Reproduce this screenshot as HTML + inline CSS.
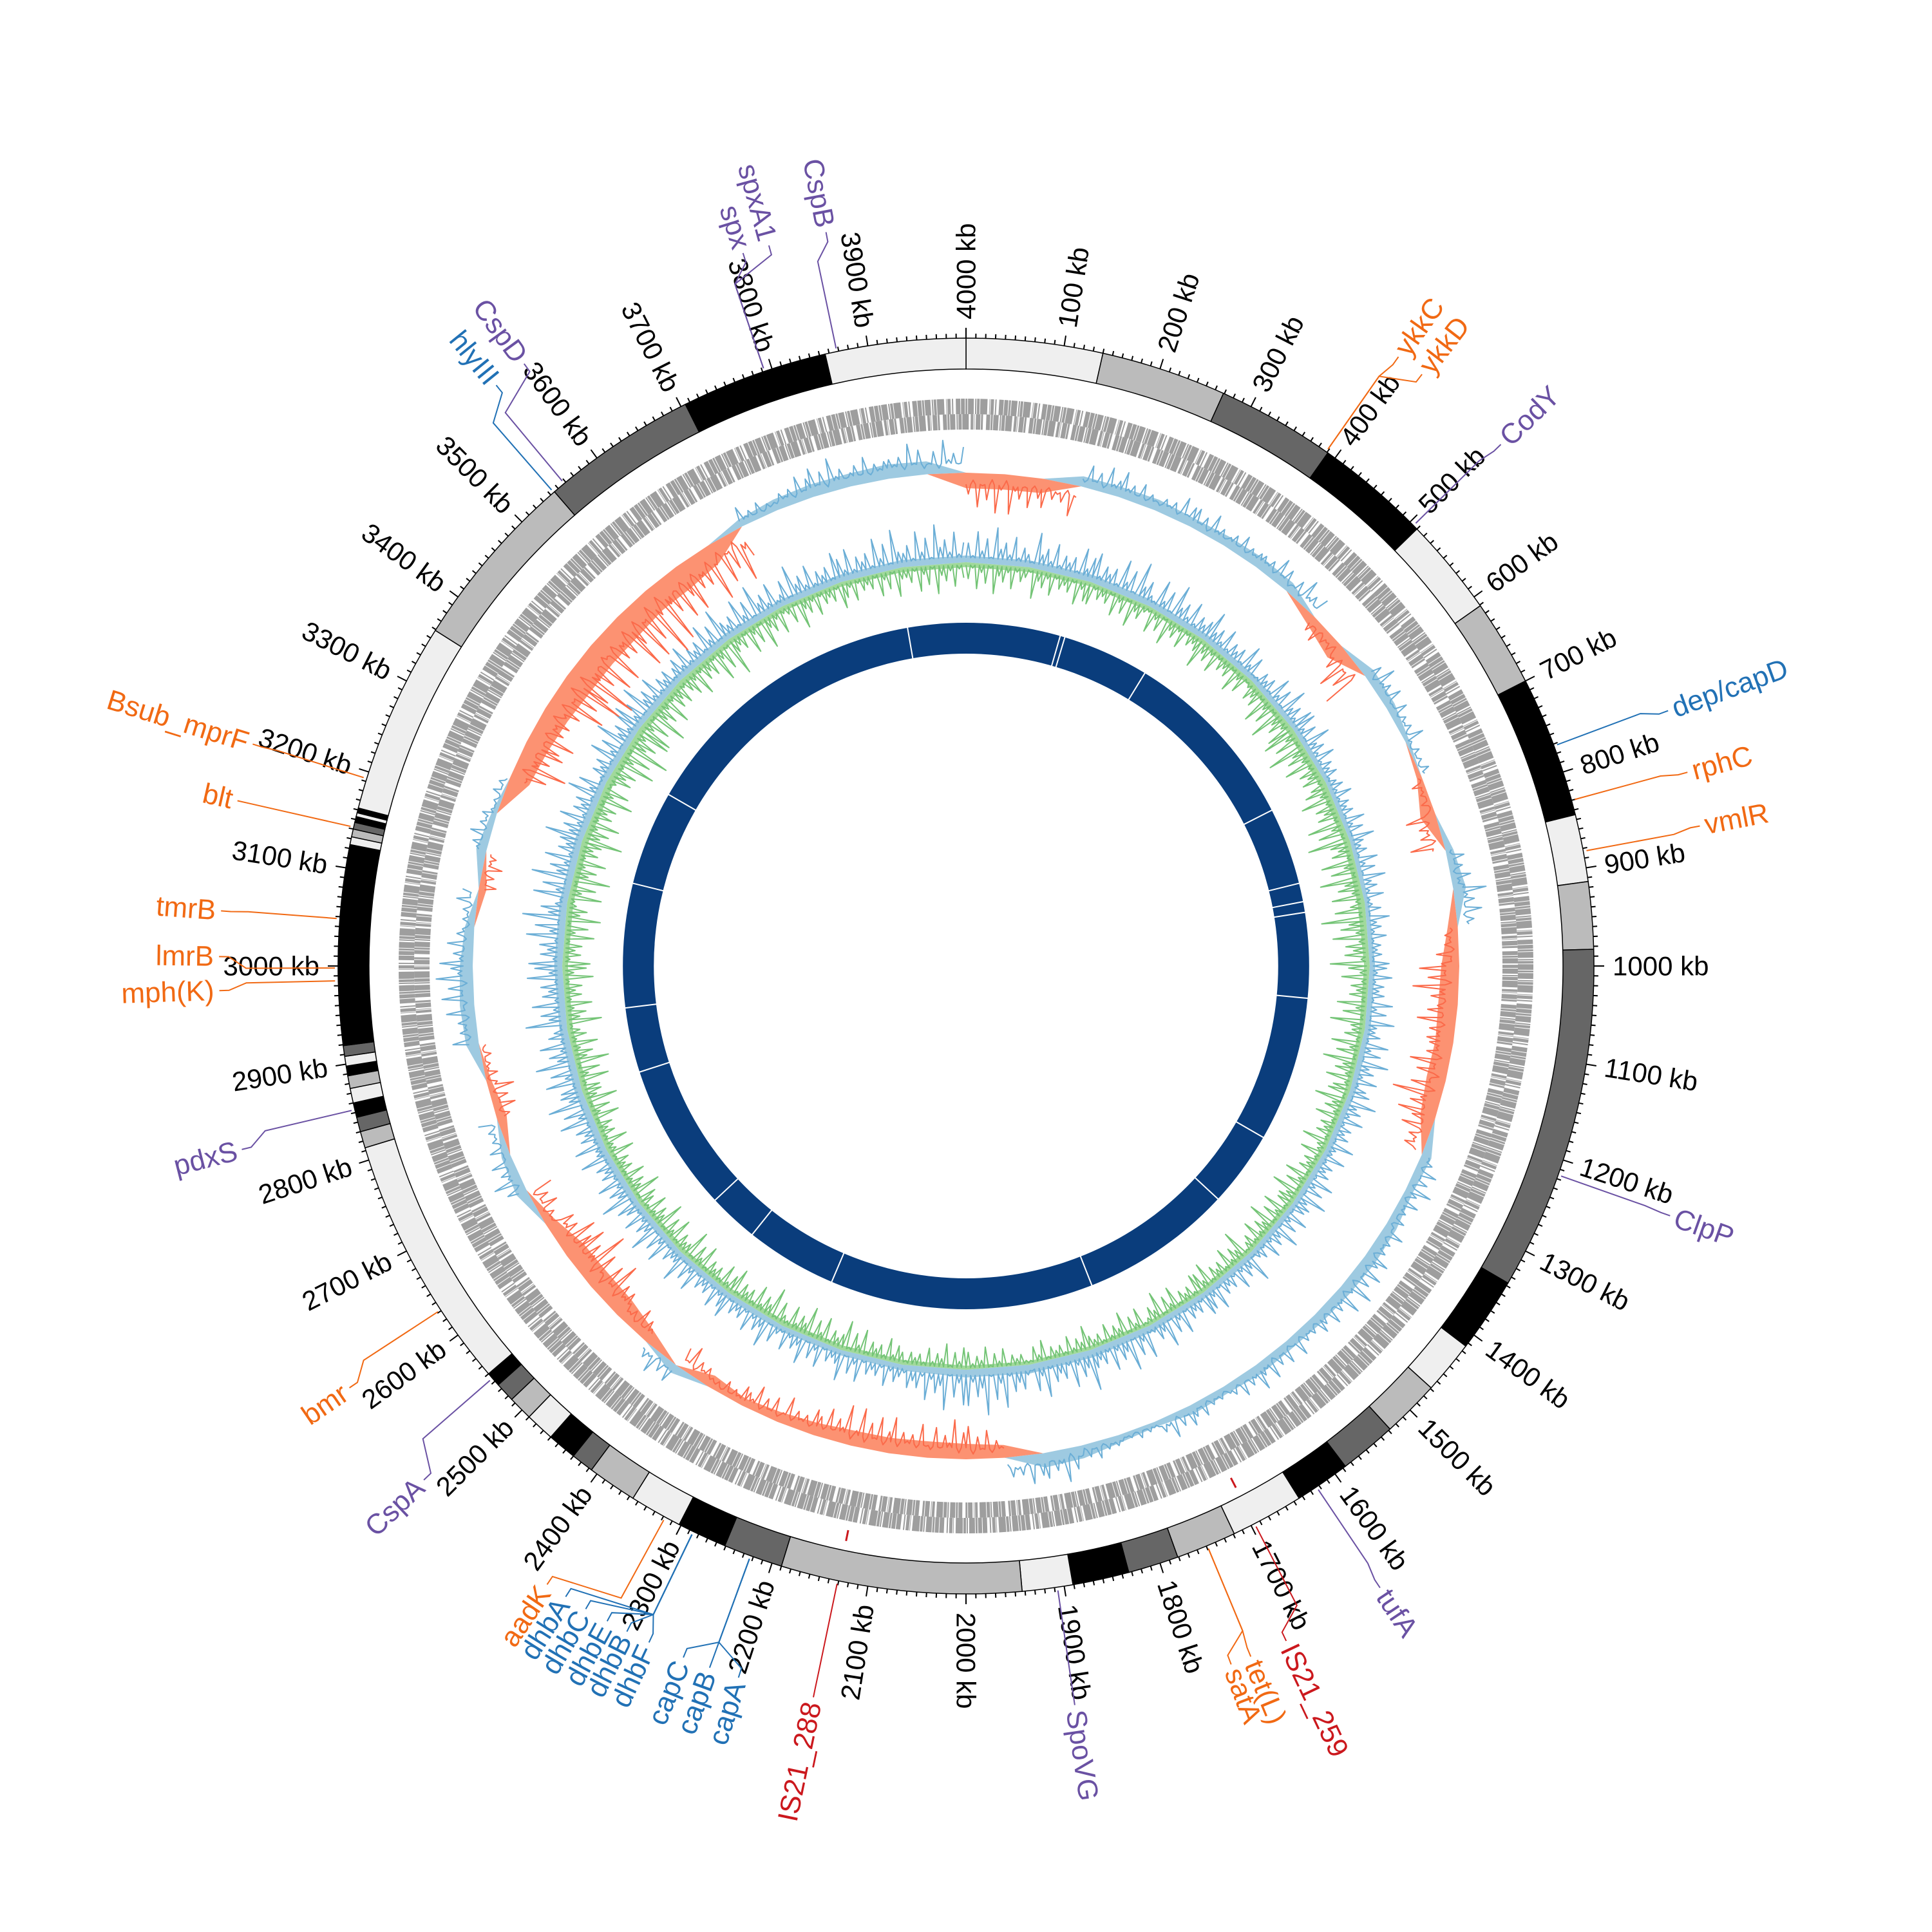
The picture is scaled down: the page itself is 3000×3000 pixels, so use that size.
<!DOCTYPE html>
<html><head><meta charset="utf-8"><title>Circular genome map</title>
<style>
html,body{margin:0;padding:0;background:#fff;}
svg{display:block;}
text{font-family:"Liberation Sans","DejaVu Sans",sans-serif;}
</style></head>
<body>
<svg id="chart" width="3000" height="3000" viewBox="0 0 3000 3000" xmlns="http://www.w3.org/2000/svg">
<rect width="3000" height="3000" fill="#fff"/>
</svg>
<script>
// ---------- data ----------
const genomeKb = 4000;
const contigStart = [0,140,269,391,510,611,700,845,914,983,1337,1414,1469,1528,1587,1644,1719,1781,1833,1891,1943,2190,2251,2302,2356,2407,2430,2460,2490,2515,2535,2550,2813,2830,2845,2860,2875,2888,2898,2908,2919,3124,3132,3140,3147,3153,3157,3162,3359,3545,3705,3856];
const contigEnd   = [140,269,391,510,611,700,845,914,983,1337,1414,1469,1528,1587,1644,1719,1781,1833,1891,1943,2190,2251,2302,2356,2407,2430,2460,2490,2515,2535,2550,2813,2830,2845,2860,2875,2888,2898,2908,2919,3124,3132,3140,3147,3153,3157,3162,3359,3545,3705,3856,4000];
const contigShade = [0,1,2,3,0,1,3,0,1,2,3,0,1,2,3,0,1,2,3,0,1,2,3,0,1,2,3,0,1,2,3,0,1,2,3,0,1,3,0,2,3,0,1,2,3,0,3,0,1,2,3,0];
// GC skew, 50 kb bins (positive = outward/blue, negative = inward/red)
const skewValues = [-30,-30,-28,20,20,22,18,20,22,20,-20,-35,20,18,8,-10,-30,15,25,-20,-35,-38,-35,-38,-30,20,15,22,24,22,20,18,20,15,18,10,15,25,28,-25,-30,-32,-30,-30,-25,-20,-15,-25,18,-25,-40,-42,-40,-20,22,18,-20,-10,25,28,25,18,-15,20,10,-40,-45,-50,-55,-55,-55,-50,-50,-40,15,22,25,25,28,25];
// GC content deviation, 100 kb bins
const gcHigh = [35,35,38,35,32,30,28,25,25,22,28,30,30,30,28,30,30,35,40,45,40,30,28,30,30,32,35,38,38,40,42,40,38,35,35,35,35,35,38,38];
const gcLow  = [30,30,28,28,30,35,40,42,40,45,35,35,32,30,30,30,28,25,25,22,25,30,30,32,30,30,30,32,35,35,35,38,40,45,40,38,32,30,28,30];
// gaps in inner ring (kb)
const innerGaps = [177,186,349,700,845,880,900,1060,1333,1475,1761,2256,2428,2522,2800,2922,3155,3333,3891];
// IS element marks
const isMarks = [1696,2131];
// annotated features
const featNames = ["CspB","spx","spxA1","CspD","hlyIII","ykkC","ykkD","CodY","dep/capD","rphC","vmlR","ClpP","tufA","IS21_259","tet(L)","satA","SpoVG","IS21_288","capA","capB","capC","dhbF","dhbB","dhbE","dhbC","dhbA","aadK","CspA","bmr","pdxS","mph(K)","lmrB","tmrB","blt","Bsub_mprF"];
const featPos   = [3868,3792,3792,3558,3544,389,389,505,772,830,883,1216,1623,1696,1749,1749,1907,2131,2223,2223,2223,2286,2286,2286,2286,2286,2318,2544,2631,2853,2985,2998,3048,3142,3193];
const featLabel = [3880,3807,3830,3597,3567,393,418,508,778,833,880,1217,1626,1718,1751,1769,1907,2131,2197,2223,2247,2279,2300,2319,2340,2360,2379,2517,2618,2842,2979,3008,3047,3142,3192];
const featType  = ["reg","reg","reg","reg","vf","amr","amr","reg","vf","amr","amr","reg","reg","is","amr","amr","reg","is","vf","vf","vf","vf","vf","vf","vf","vf","amr","reg","amr","reg","amr","amr","amr","amr","amr"];

// ---------- styles ----------
const CX = 1500, CY = 1500;
const shades = ["#efefef","#bbbbbb","#666666","#000000"];
const typeColor = {amr:"#f16913", vf:"#2171b5", reg:"#6a51a3", is:"#cb181d"};
const R_BAND_OUT = 975, R_BAND_IN = 927;
const R_SKEW = 766, R_GC = 627;
const spikePattern = [1.0,0.35,1.6,0.6,1.25,0.3,1.85,0.75,1.1,0.5,1.45,0.4,0.95,0.65];

const NS = "http://www.w3.org/2000/svg";
const svg = document.getElementById("chart");
function ang(kb){ return kb / genomeKb * 2 * Math.PI; }
function P(kb, r){ const a = ang(kb); return [CX + r*Math.sin(a), CY - r*Math.cos(a)]; }
function f(n){ return n.toFixed(1); }
function mk(tag, attrs, parent){
  const e = document.createElementNS(NS, tag);
  for (const k in attrs) e.setAttribute(k, attrs[k]);
  (parent || svg).appendChild(e);
  return e;
}
function annulus(k0, k1, r0, r1){
  const large = (k1 - k0) > genomeKb/2 ? 1 : 0;
  const a = P(k0, r1), b = P(k1, r1), c = P(k1, r0), d = P(k0, r0);
  return `M${f(a[0])},${f(a[1])}A${r1},${r1} 0 ${large} 1 ${f(b[0])},${f(b[1])}L${f(c[0])},${f(c[1])}A${r0},${r0} 0 ${large} 0 ${f(d[0])},${f(d[1])}Z`;
}

// ---------- inner dark ring ----------
const gInner = mk("g", {});


const ringInner = mk("path", {d: annulus(0, 1999.99, 485, 533) + annulus(1999.99, 3999.99, 485, 533), fill:"#0a3d7c"}, gInner);


innerGaps.forEach(kb => {
  const a = P(kb, 484), b = P(kb, 534);
  const ln = mk("line", {x1:f(a[0]), y1:f(a[1]), x2:f(b[0]), y2:f(b[1]), stroke:"#fff", "stroke-width":2}, gInner);
  
  
});

function areaPath(vals, binKb, base, sign, scale){
  const n = vals.length;
  const pts = [];
  for (let i = 0; i <= n; i++){
    const v = vals[i % n] * scale * sign;
    pts.push(P(i * binKb, base + v));
  }
  let d = `M${f(pts[0][0])},${f(pts[0][1])}`;
  for (let i = 1; i < pts.length; i++) d += `L${f(pts[i][0])},${f(pts[i][1])}`;
  for (let i = n; i >= 0; i--){ const q = P(i*binKb, base); d += `L${f(q[0])},${f(q[1])}`; }
  return d + "Z";
}
// zigzag line between fill level and peak level (texture from bin values)
function zigPath(vals, binKb, base, sign, fillScale, peakScale, per){
  let d = "";
  let first = true;
  vals.forEach((v, i) => {
    if (v <= 0) { first = true; return; }
    for (let j = 0; j < per; j++){
      const kb0 = i*binKb + j * binKb / per;
      const kb1 = kb0 + binKb / per * 0.5;
      const lo = P(kb0, base + v * fillScale * sign);
      const hi = P(kb1, base + v * peakScale * spikePattern[(j + i*5) % spikePattern.length] * sign);
      d += (first ? "M" : "L") + `${f(lo[0])},${f(lo[1])}L${f(hi[0])},${f(hi[1])}`;
      first = false;
    }
  });
  return d;
}

// ---------- GC content ring ----------
const gGC = mk("g", {});


let e;
e = mk("path", {d: areaPath(gcHigh, 100, R_GC, 1, 0.3), fill:"#9ecae1"}, gGC);


e = mk("path", {d: areaPath(gcLow, 100, R_GC, -1, 0.25), fill:"#a1d99b"}, gGC);


e = mk("path", {d: zigPath(gcHigh, 100, R_GC, 1, 0.2, 0.85, 14), stroke:"#6baed6", "stroke-width":2, fill:"none", "stroke-linejoin":"round"}, gGC);


e = mk("path", {d: zigPath(gcLow, 100, R_GC, -1, 0.15, 0.85, 14), stroke:"#74c476", "stroke-width":2, fill:"none", "stroke-linejoin":"round"}, gGC);



// ---------- GC skew ring ----------
const gSk = mk("g", {});


const skPos = skewValues.map(v => Math.max(v, 0));
const skNeg = skewValues.map(v => Math.max(-v, 0));
e = mk("path", {d: areaPath(skPos, 50, R_SKEW, 1, 0.8), fill:"#9ecae1"}, gSk);


e = mk("path", {d: areaPath(skNeg, 50, R_SKEW, -1, 0.8), fill:"#fc9272"}, gSk);


e = mk("path", {d: zigPath(skPos, 50, R_SKEW, 1, 0.6, 1.1, 8), stroke:"#6baed6", "stroke-width":2, fill:"none", "stroke-linejoin":"round"}, gSk);


e = mk("path", {d: zigPath(skNeg, 50, R_SKEW, -1, 0.6, 1.1, 8), stroke:"#fb6a4a", "stroke-width":2, fill:"none", "stroke-linejoin":"round"}, gSk);



// ---------- gene ring ----------
const gGenes = mk("g", {});


e = mk("circle", {cx:CX, cy:CY, r:869, fill:"none", stroke:"#9e9e9e", "stroke-width":24, "stroke-dasharray":"6 1 3 1 9 2 2 1 4 1 11 3 1 1 5 2 2 4 7 1"}, gGenes);


e = mk("circle", {cx:CX, cy:CY, r:845, fill:"none", stroke:"#9e9e9e", "stroke-width":24, "stroke-dasharray":"3 1 8 2 2 1 5 1 10 3 4 1 1 2 7 1 3 5 6 1"}, gGenes);


isMarks.forEach(kb => {
  const a = P(kb, 895), b = P(kb, 912);
  const m = mk("line", {x1:f(a[0]), y1:f(a[1]), x2:f(b[0]), y2:f(b[1]), stroke:"#cb181d", "stroke-width":3}, gGenes);
  
  
});

// ---------- contig band ----------
const gBand = mk("g", {});


contigStart.forEach((s, i) => {
  const seg = mk("path", {d: annulus(s, contigEnd[i], R_BAND_IN, R_BAND_OUT), fill: shades[contigShade[i]], stroke:"#000", "stroke-width":1.5}, gBand);
  
  
});

// ---------- ticks and tick labels ----------
const gTicks = mk("g", {});


let tickD = "";
for (let kb = 0; kb < genomeKb; kb += 10){
  const major = kb % 100 === 0;
  const a = P(kb, R_BAND_OUT), b = P(kb, R_BAND_OUT + (major ? 16 : 7));
  tickD += `M${f(a[0])},${f(a[1])}L${f(b[0])},${f(b[1])}`;
}
e = mk("path", {d: tickD, stroke:"#000", "stroke-width":2, fill:"none"}, gTicks);


function radialText(kb, r, str, size, color, parent){
  const deg = kb / genomeKb * 360;
  const p = P(kb, r);
  const right = deg <= 180.01;
  const rot = right ? deg - 90 : deg + 90;
  const t = mk("text", {x:f(p[0]), y:f(p[1]), "font-size":size, fill:color,
    "text-anchor": right ? "start" : "end", "dominant-baseline":"central",
    transform:`rotate(${rot.toFixed(2)} ${f(p[0])} ${f(p[1])})`}, parent);
  t.textContent = str;
  return t;
}
for (let kb = 0; kb < genomeKb; kb += 100){
  const t = radialText(kb, 1004, (kb === 0 ? genomeKb : kb) + " kb", 42, "#000", gTicks);
  
  
}

// ---------- feature labels ----------
const gFeat = mk("g", {});


featNames.forEach((name, i) => {
  const col = typeColor[featType[i]];
  const p1 = P(featPos[i], 980), p2 = P(featPos[i], 1118), p3 = P(featLabel[i], 1145), p4 = P(featLabel[i], 1160);
  const ln = mk("polyline", {points:`${f(p1[0])},${f(p1[1])} ${f(p2[0])},${f(p2[1])} ${f(p3[0])},${f(p3[1])} ${f(p4[0])},${f(p4[1])}`, fill:"none", stroke:col, "stroke-width":2}, gFeat);
  
  
  const t = radialText(featLabel[i], 1168, name, 44, col, gFeat);
  
  
});
</script>
</body></html>
